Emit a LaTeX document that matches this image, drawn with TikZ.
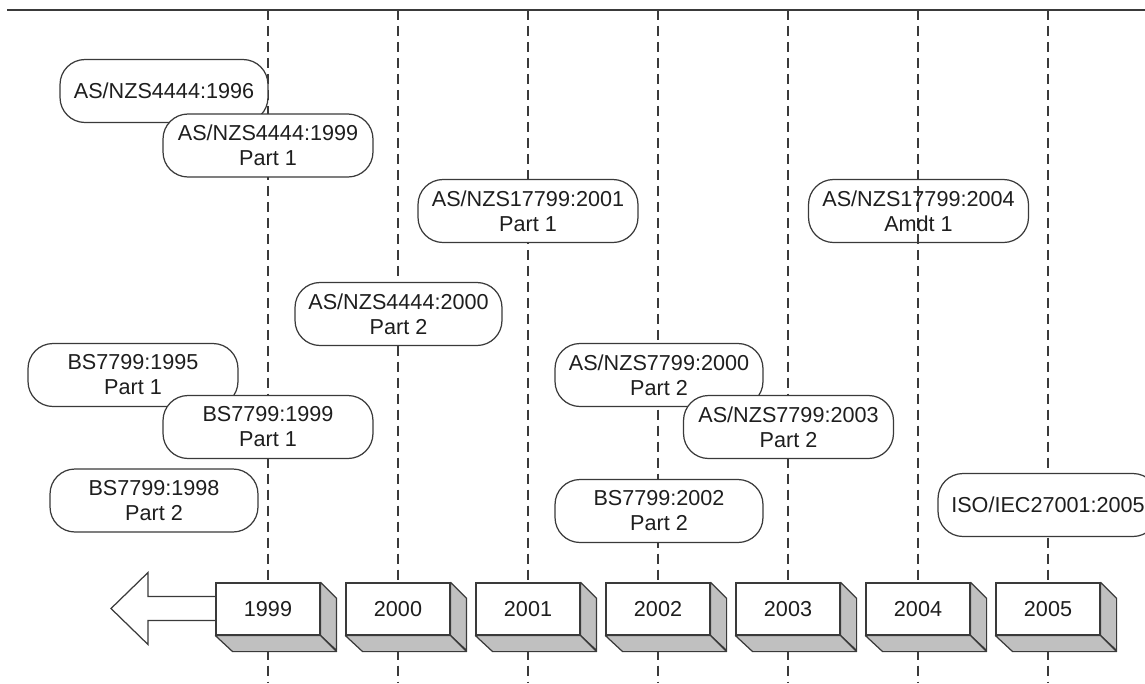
\documentclass[tikz,border=0pt]{standalone}
\usepackage{fontspec}
\setmainfont{Liberation Sans}
\usepackage{xcolor}
\usepackage{tikz}
\usetikzlibrary{backgrounds}
\definecolor{edgegray}{HTML}{3A3A3A}
\definecolor{sidegray}{HTML}{C0C0C0}
\definecolor{textgray}{HTML}{1E1E1E}
\newcommand{\lbl}{\fontsize{12.3pt}{14.2pt}\selectfont}

\begin{document}
\begin{tikzpicture}[x=0.02cm, y=-0.02cm,
    std/.style={draw=edgegray, fill=white, line width=0.7pt, rounded corners=0.5cm,
        minimum width=4.2cm, minimum height=1.26cm, inner sep=0pt, align=center,
        font=\lbl, text=textgray},
    yearbox/.style={draw=edgegray, fill=white, line width=0.7pt,
        minimum width=2.08cm, minimum height=1.04cm, inner sep=0pt, font=\lbl, text=textgray},
    side/.style={draw=edgegray, fill=sidegray, line width=0.7pt, line join=round},
    yearline/.style={draw=edgegray, line width=0.8pt, dash pattern=on 5.7pt off 3.4pt},
    topline/.style={draw=edgegray, line width=1.6pt}]
            \useasboundingbox (0,0) rectangle (1145,683);
            \clip (0,0) rectangle (1145,683);

            \coordinate (tl) at (7,10);
            \coordinate (tr) at (1145,10);
            \coordinate (bl) at (0,683);
            \draw[topline] (tl) -- (tr);

            % back arrow
            \draw[draw=edgegray, fill=white, line width=0.7pt, line join=miter]
                (216,596.5) -- (148,596.5) -- (148,572.5) -- (111,608.5)
                -- (148,644.5) -- (148,620.5) -- (216,620.5);

            % years
            \foreach \yr [count=\i from 0] in {1999,2000,2001,2002,2003,2004,2005} {
                \node[yearbox] (y\yr) at (268+130*\i, 609) {\yr};
                \draw[side] (y\yr.north east) -- ++(16,16) -- ++(0,52) -- (y\yr.south east) -- cycle;
                \draw[side] (y\yr.south west) -- (y\yr.south east) -- ++(16,16) -- ++(-104,0) -- cycle;
                \begin{scope}[on background layer]
                    \draw[yearline] (y\yr |- tl) -- (y\yr |- bl);
                \end{scope}
            }

            \node[std, minimum width=4.16cm] (as1996) at (164,91) {AS/NZS4444:1996};
            \node[std] (as1999) at (268,145.5) {AS/NZS4444:1999\\Part 1};
            \node[std, minimum width=4.4cm] (as17799a) at (528,211) {AS/NZS17799:2001\\Part 1};
            \node[std, fill=none, minimum width=4.4cm] (as17799b) at (918.5,211) {AS/NZS17799:2004\\Amdt 1};
            \node[std, minimum width=4.14cm] (as2000) at (398.5,314) {AS/NZS4444:2000\\Part 2};

            \node[std] (bs1995) at (133,375) {BS7799:1995\\Part 1};
            \node[std] (bs1999) at (268,427) {BS7799:1999\\Part 1};
            \node[std, minimum width=4.16cm] (bs1998) at (154,500.5) {BS7799:1998\\Part 2};

            \node[std, minimum width=4.16cm] (as7799a) at (659,375) {AS/NZS7799:2000\\Part 2};
            \node[std] (as7799b) at (788.5,427) {AS/NZS7799:2003\\Part 2};
            \node[std, minimum width=4.16cm] (bs2002) at (659,511) {BS7799:2002\\Part 2};

            \node[std, minimum width=4.4cm] (iso) at (1048,505) {ISO/IEC27001:2005};
        \end{tikzpicture}
\end{document}
